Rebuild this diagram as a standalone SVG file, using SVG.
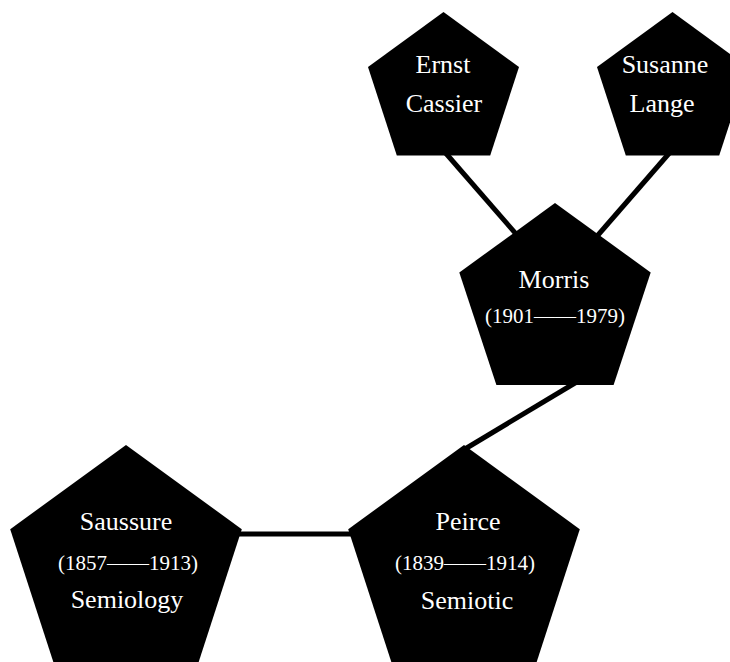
<svg xmlns="http://www.w3.org/2000/svg" width="730" height="662" viewBox="0 0 730 662">
<style>
.node{fill:#000}
.edge{stroke:#000;stroke-width:5;fill:none}
text{font-family:"Liberation Serif","Times New Roman",serif;fill:#fff;text-anchor:middle}
.big{font-size:26px}
.small{font-size:21px}
</style>
<rect width="730" height="662" fill="#fff"/>
<g id="connectors">
<line class="edge" x1="443" y1="150" x2="530" y2="250"/>
<line class="edge" x1="672" y1="150" x2="585" y2="250"/>
<line class="edge" x1="580" y1="380" x2="460" y2="452"/>
<line class="edge" x1="230" y1="534" x2="360" y2="534"/>
</g>
<g id="ernst">
<polygon class="node" points="443.5,12 519,67 490.2,155.6 396.8,155.6 368,67"/>
<text class="big" x="443" y="73">Ernst</text>
<text class="big" x="444" y="112">Cassier</text>
</g>
<g id="susanne">
<polygon class="node" points="672.5,12 748,67 719.2,155.6 625.8,155.6 597,67"/>
<text class="big" x="665" y="73">Susanne</text>
<text class="big" x="662" y="112">Lange</text>
</g>
<g id="morris">
<polygon class="node" points="555,203 650.7,272.5 613.6,385 496.4,385 459.3,272.5"/>
<text class="big" x="554" y="288">Morris</text>
<text class="small" x="555" y="323">(1901——1979)</text>
</g>
<g id="saussure">
<polygon class="node" points="126,445 241.8,529.2 197.6,665.3 54.4,665.3 10.2,529.2"/>
<text class="big" x="126" y="530">Saussure</text>
<text class="small" x="128" y="570">(1857——1913)</text>
<text class="big" x="127" y="608">Semiology</text>
</g>
<g id="peirce">
<polygon class="node" points="464,445 579.8,529.2 535.6,665.3 392.4,665.3 348.2,529.2"/>
<text class="big" x="468" y="530">Peirce</text>
<text class="small" x="465" y="570">(1839——1914)</text>
<text class="big" x="467" y="609">Semiotic</text>
</g>
</svg>
